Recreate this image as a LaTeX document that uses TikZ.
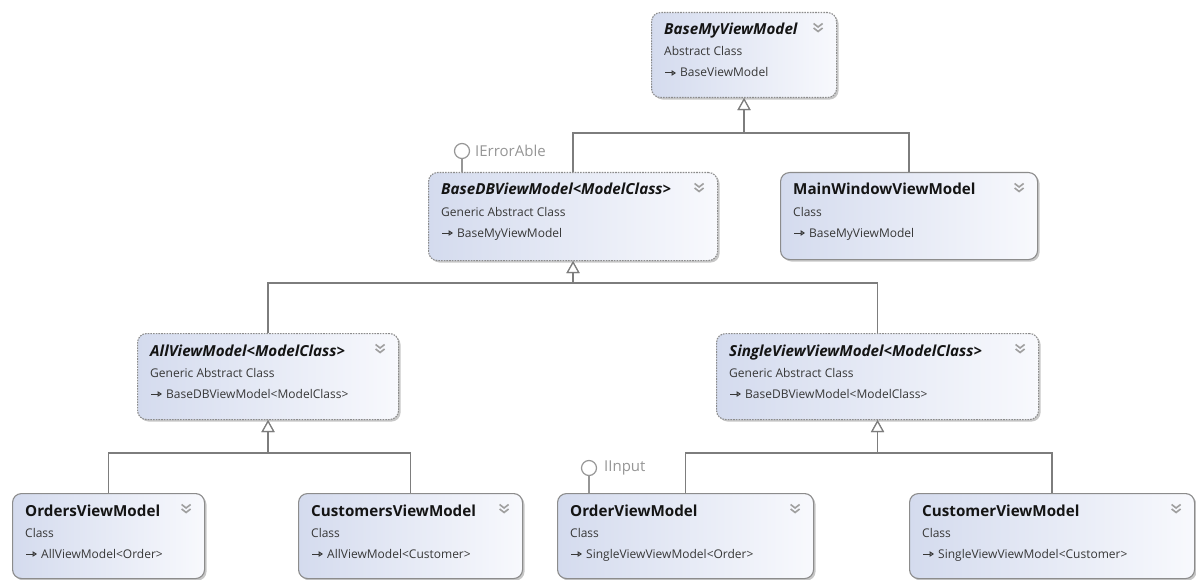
\documentclass[tikz,border=0pt]{standalone}
\usepackage{fontspec}
\setmainfont{Open Sans}
\usetikzlibrary{arrows.meta,shadows}

\definecolor{boxL}{RGB}{212,219,238}
\definecolor{boxR}{RGB}{248,249,253}
\definecolor{edge}{RGB}{140,140,140}
\definecolor{conn}{RGB}{125,125,125}
\definecolor{ink}{RGB}{20,20,20}
\definecolor{soft}{RGB}{55,55,55}
\definecolor{iface}{RGB}{150,150,150}

\tikzset{
  classbase/.style={rectangle, rounded corners=9pt, inner sep=0pt,
    left color=boxL, right color=boxR, line width=1.1pt,
    drop shadow={shadow xshift=2pt, shadow yshift=-2pt, opacity=.22, fill=black}},
  concrete/.style={classbase, draw=edge},
  abstract/.style={classbase, draw=edge, dash pattern=on 1.6pt off 1.1pt},
  title/.style={anchor=base west, inner sep=0pt,
    font=\fontsize{15.2}{17}\selectfont\bfseries, text=ink},
  kind/.style={anchor=base west, inner sep=0pt,
    font=\fontsize{12}{14}\selectfont, text=soft},
  mini/.style={line width=1pt, draw=soft, -{Triangle[open, length=4.5pt, width=5.5pt]}},
  chev/.style={draw=gray!75, line width=1.6pt},
  inherit/.style={draw=conn, line width=1.2pt,
    -{Triangle[length=12pt, width=13pt, fill=white]}},
  lolli/.style={circle, draw=iface, line width=1.2pt, fill=white,
    minimum size=15pt, inner sep=0pt},
  iflabel/.style={anchor=west, inner sep=0pt,
    font=\fontsize{15}{17}\selectfont, text=iface},
  ifline/.style={draw=iface, line width=1.2pt},
}

% class box: name, left, top, width, height, style, title, kind, parent
\newcommand\umlclass[9]{%
  \node[#6, minimum width=#4pt, minimum height=#5pt, anchor=north west] (#1) at (#2,#3) {};
  \node[title] (#1-t) at ([shift={(13,23)}]#1.north west) {#7};
  \node[kind] (#1-k) at ([shift={(13,44)}]#1.north west) {#8};
  \node[kind] (#1-p) at ([shift={(29,65)}]#1.north west) {#9};
  \draw[mini] ([shift={(14,61)}]#1.north west) -- ([shift={(25,61)}]#1.north west);
  \coordinate (#1-c) at ([shift={(-19,16)}]#1.north east);
  \draw[chev] ([shift={(-4.5,-4.5)}]#1-c) -- ([shift={(0,-1)}]#1-c) -- ([shift={(4.5,-4.5)}]#1-c);
  \draw[chev] ([shift={(-4.5,0)}]#1-c) -- ([shift={(0,3.5)}]#1-c) -- ([shift={(4.5,0)}]#1-c);
}

\begin{document}
\begin{tikzpicture}[x=1pt, y=-1pt]
\useasboundingbox[fill=white] (0,0) rectangle (1196,580);

% classes
\umlclass{bmv}{651}{12}{185}{85}{abstract}{\itshape BaseMyViewModel}{Abstract Class}{BaseViewModel}
\umlclass{bdb}{428}{172}{289}{88}{abstract}{\itshape BaseDBViewModel<ModelClass>}{Generic Abstract Class}{BaseMyViewModel}
\umlclass{mwv}{780}{172}{257}{87}{concrete}{MainWindowViewModel}{Class}{BaseMyViewModel}
\umlclass{avm}{137}{333}{261}{86}{abstract}{\itshape AllViewModel<ModelClass>}{Generic Abstract Class}{BaseDBViewModel<ModelClass>}
\umlclass{svm}{716}{333}{322}{86}{abstract}{\itshape SingleViewViewModel<ModelClass>}{Generic Abstract Class}{BaseDBViewModel<ModelClass>}
\umlclass{ord}{12}{493}{192}{85}{concrete}{OrdersViewModel}{Class}{AllViewModel<Order>}
\umlclass{cus}{298}{493}{224}{85}{concrete}{CustomersViewModel}{Class}{AllViewModel<Customer>}
\umlclass{ovm}{557}{493}{256}{85}{concrete}{OrderViewModel}{Class}{SingleViewViewModel<Order>}
\umlclass{cvm}{909}{493}{285}{85}{concrete}{CustomerViewModel}{Class}{SingleViewViewModel<Customer>}

% bus levels of the inheritance trees
\coordinate (busA) at (0,133);
\coordinate (busB) at (0,283);
\coordinate (busC) at (0,453);

% generalisation connectors
\draw[inherit] (bdb.north) -- (bdb.north |- busA) -| (bmv.south);
\draw[inherit] (mwv.north) -- (mwv.north |- busA) -| (bmv.south);
\draw[inherit] (avm.north) -- (avm.north |- busB) -| (bdb.south);
\draw[inherit] (svm.north) -- (svm.north |- busB) -| (bdb.south);
\draw[inherit] (ord.north) -- (ord.north |- busC) -| (avm.south);
\draw[inherit] (cus.north) -- (cus.north |- busC) -| (avm.south);
\draw[inherit] (ovm.north) -- (ovm.north |- busC) -| (svm.south);
\draw[inherit] (cvm.north) -- (cvm.north |- busC) -| (svm.south);

% implemented interfaces
\node[lolli] (ierr) at (462,151) {};
\node[iflabel] (ierr-l) at (475,151) {IErrorAble};
\draw[ifline] (ierr.south) -- (ierr.south |- bdb.north);

\node[lolli] (iinp) at (589,468) {};
\node[iflabel] (iinp-l) at (604,468) {IInput};
\draw[ifline] (iinp.south) -- (iinp.south |- ovm.north);
\end{tikzpicture}
\end{document}
